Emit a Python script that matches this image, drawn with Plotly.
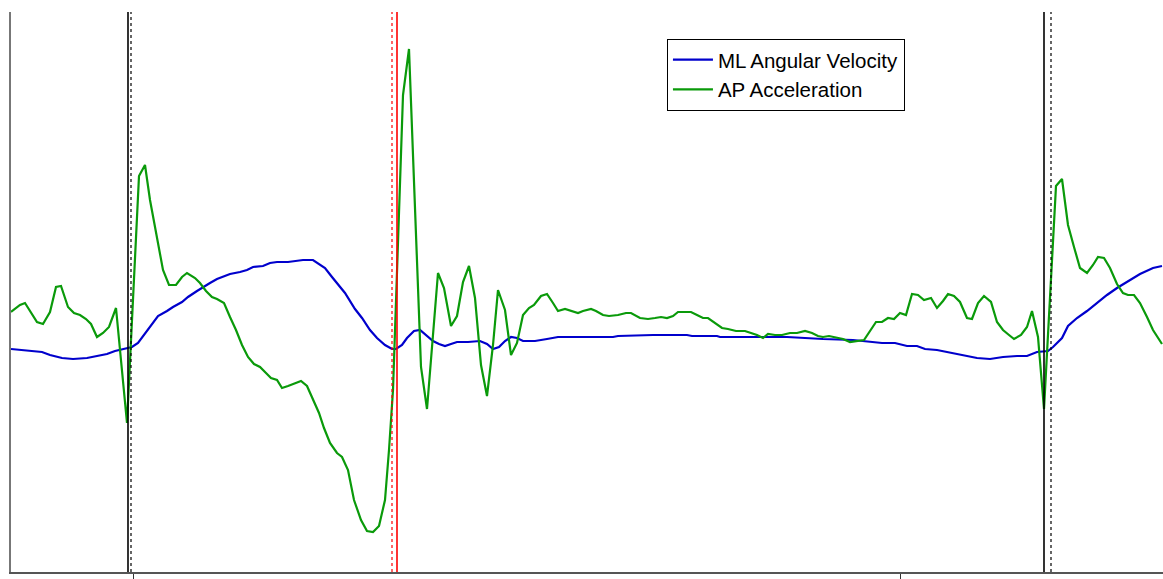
import plotly.graph_objects as go

# time in ms from start of window
t_ap = [0, 9, 14, 26, 32, 39, 45, 50, 57, 63, 69, 75, 80, 86, 92, 98, 105, 116,
        128, 134, 139, 146, 152, 158, 165, 171, 176, 184, 189, 195, 201, 206, 213,
        219, 225, 231, 237, 243, 249, 255, 260, 266, 271, 277, 284, 290, 296, 302,
        308, 313, 319, 326, 331, 337, 343, 350, 356, 362, 368, 374, 378, 382, 392,
        398, 410, 416, 427, 433, 440, 446, 452, 458, 464, 470, 476, 482, 487, 494,
        500, 506, 512, 518, 523, 530, 536, 542, 547, 554, 561, 567, 572, 580, 585,
        592, 598, 607, 615, 620, 629, 637, 644, 650, 656, 662, 667, 674, 680, 686,
        692, 697, 704, 711, 717, 725, 734, 741, 746, 752, 757, 764, 771, 779, 786,
        794, 801, 807, 812, 818, 824, 832, 839, 846, 853, 865, 871, 877, 883, 889,
        895, 901, 907, 913, 920, 926, 932, 937, 943, 949, 956, 961, 967, 973, 980,
        986, 992, 998, 1003, 1010, 1016, 1021, 1027, 1033, 1045, 1051, 1057, 1063,
        1069, 1076, 1082, 1087, 1093, 1099, 1106, 1112, 1117, 1123, 1129, 1136,
        1142, 1151]
ap_acc = [0.38, 0.45, 0.47, 0.28, 0.26, 0.38, 0.63, 0.64, 0.43, 0.37, 0.35, 0.31,
          0.26, 0.13, 0.17, 0.23, 0.42, -0.73, 1.74, 1.85, 1.50, 1.12, 0.80, 0.65,
          0.65, 0.73, 0.77, 0.72, 0.67, 0.59, 0.53, 0.51, 0.47, 0.33, 0.20, 0.05,
          -0.07, -0.14, -0.17, -0.23, -0.28, -0.30, -0.38, -0.36, -0.33, -0.31,
          -0.36, -0.50, -0.63, -0.78, -0.93, -1.03, -1.07, -1.20, -1.50, -1.70,
          -1.81, -1.82, -1.76, -1.50, -1.00, -0.40, 2.55, 3.01, -0.17, -0.59, 0.77,
          0.62, 0.24, 0.34, 0.68, 0.84, 0.52, -0.15, -0.46, 0.05, 0.60, 0.40, -0.05,
          0.07, 0.35, 0.42, 0.45, 0.54, 0.56, 0.47, 0.39, 0.41, 0.39, 0.37, 0.39,
          0.41, 0.39, 0.35, 0.34, 0.35, 0.37, 0.37, 0.32, 0.31, 0.32, 0.33, 0.32,
          0.34, 0.38, 0.38, 0.38, 0.35, 0.32, 0.32, 0.27, 0.22, 0.21, 0.19, 0.19,
          0.17, 0.15, 0.12, 0.16, 0.15, 0.15, 0.17, 0.17, 0.19, 0.17, 0.14, 0.13,
          0.14, 0.13, 0.11, 0.08, 0.09, 0.10, 0.28, 0.28, 0.32, 0.31, 0.37, 0.35,
          0.56, 0.55, 0.50, 0.52, 0.42, 0.49, 0.56, 0.54, 0.48, 0.32, 0.31, 0.47,
          0.54, 0.48, 0.28, 0.20, 0.15, 0.11, 0.15, 0.23, 0.39, 0.13, -0.59, 1.64,
          1.71, 1.25, 1.03, 0.82, 0.77, 0.85, 0.93, 0.92, 0.82, 0.66, 0.57, 0.55,
          0.55, 0.47, 0.33, 0.20, 0.06]

t_ml = [0, 12, 26, 31, 39, 51, 62, 76, 86, 96, 104, 112, 121, 127, 135, 142, 147,
        156, 162, 171, 177, 186, 192, 199, 206, 212, 219, 229, 236, 242, 252, 259,
        266, 277, 284, 292, 302, 307, 314, 321, 327, 334, 344, 351, 359, 366, 374,
        381, 385, 391, 396, 403, 409, 416, 422, 428, 434, 440, 446, 457, 469, 476,
        482, 488, 494, 500, 506, 512, 524, 536, 547, 569, 602, 607, 642, 676, 681,
        706, 709, 776, 792, 812, 842, 859, 871, 884, 896, 906, 914, 926, 936, 949,
        966, 979, 992, 1006, 1016, 1026, 1037, 1042, 1051, 1057, 1066, 1076, 1086,
        1096, 1106, 1116, 1129, 1142, 1151]
ml_gyro = [0.01, 0.00, -0.01, -0.02, -0.05, -0.08, -0.09, -0.08, -0.06, -0.04,
           -0.01, 0.01, 0.03, 0.07, 0.18, 0.28, 0.34, 0.39, 0.43, 0.48, 0.53, 0.59,
           0.63, 0.67, 0.71, 0.73, 0.76, 0.78, 0.80, 0.83, 0.84, 0.87, 0.88, 0.88,
           0.89, 0.90, 0.90, 0.87, 0.82, 0.73, 0.66, 0.57, 0.41, 0.32, 0.20, 0.12,
           0.05, 0.01, 0.01, 0.05, 0.12, 0.19, 0.20, 0.14, 0.09, 0.06, 0.04, 0.06,
           0.08, 0.08, 0.09, 0.06, 0.01, 0.03, 0.09, 0.13, 0.12, 0.09, 0.09, 0.11,
           0.13, 0.13, 0.13, 0.14, 0.15, 0.15, 0.14, 0.14, 0.13, 0.13, 0.12, 0.11,
           0.10, 0.08, 0.07, 0.07, 0.04, 0.04, 0.01, 0.00, -0.02, -0.04, -0.08,
           -0.09, -0.07, -0.06, -0.06, -0.02, -0.01, 0.03, 0.12, 0.24, 0.32, 0.39,
           0.47, 0.55, 0.62, 0.68, 0.76, 0.82, 0.84]

# event markers (ms): (time, colour, dash)
event_t = [117, 120, 381, 386, 1033, 1040]
event_color = ["black", "black", "red", "red", "black", "black"]
event_dash = ["solid", "dot", "dot", "solid", "solid", "dot"]

tick_t = [122, 889]
x_range = [0, 1152]
y_range = [-2.22, 3.38]

fig = go.Figure()
fig.add_trace(go.Scatter(x=t_ml, y=ml_gyro, mode="lines", name="ML Angular Velocity",
                         line=dict(color="#0000cc", width=2.2)))
fig.add_trace(go.Scatter(x=t_ap, y=ap_acc, mode="lines", name="AP Acceleration",
                         line=dict(color="#0a9a0a", width=2.2)))

for t, c, d in zip(event_t, event_color, event_dash):
    fig.add_shape(type="line", xref="x", yref="paper", x0=t, x1=t, y0=0, y1=1,
                  line=dict(color=c, width=1.6 if d == "solid" else 1.2, dash=d),
                  layer="above")

fig.update_layout(
    width=1163, height=579,
    margin=dict(l=11, r=0, t=12, b=7),
    plot_bgcolor="white", paper_bgcolor="white",
    showlegend=True,
    legend=dict(x=0.5694, y=0.952, xanchor="left", yanchor="top",
                bordercolor="black", borderwidth=1, bgcolor="white",
                font=dict(family="Liberation Sans, Arial", size=20.5, color="black"),
                tracegroupgap=0, itemwidth=40),
    xaxis=dict(range=x_range, showgrid=False, zeroline=False, showline=True,
               linecolor="#555555", linewidth=1.5, ticks="outside", ticklen=6,
               tickcolor="#333333", tickvals=tick_t, showticklabels=False,
               fixedrange=True),
    yaxis=dict(range=y_range, showgrid=False, zeroline=False, showline=True,
               linecolor="#777777", linewidth=1.5, ticks="", showticklabels=False,
               fixedrange=True),
)

# remove the default page margin so the figure fills the window exactly
fig.write_html(
    "out.html",
    config={"displayModeBar": False},
    post_script="document.body.style.margin='0';document.body.style.overflow='hidden';",
)
